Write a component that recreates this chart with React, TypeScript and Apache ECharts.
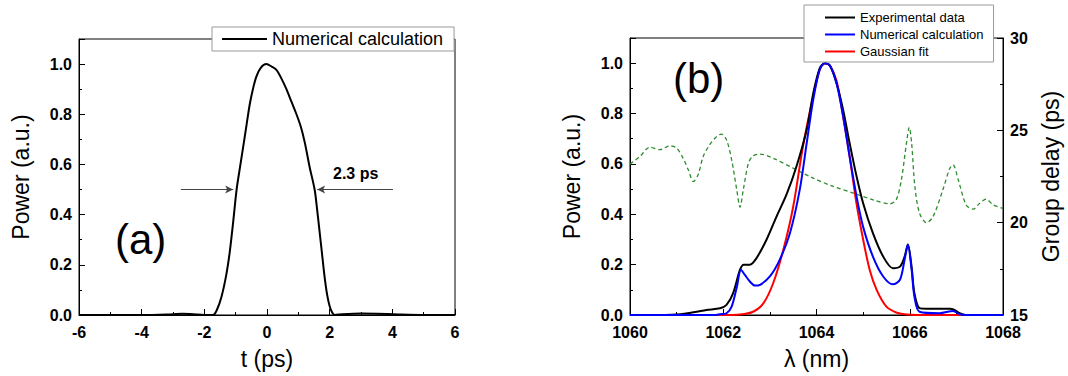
import React, { useEffect, useRef } from "react";
import * as echarts from "echarts";

// ---- Panel (a): pulse in time domain ----
const pulseT = [-6, -5, -4, -3.2, -2.7, -2.2, -1.9, -1.72, -1.6, -1.45, -1.3, -1.19, -1.08, -0.97, -0.86, -0.76, -0.65, -0.55, -0.45, -0.34, -0.2, -0.02, 0.15, 0.3, 0.45, 0.62, 0.78, 0.94, 1.08, 1.21, 1.36, 1.52, 1.6, 1.68, 1.76, 1.84, 1.92, 2.0, 2.08, 2.16, 2.4, 3.0, 3.5, 4.2, 5, 6];
const pulsePower = [0, 0, 0, 0.002, 0.005, 0.002, 0, 0, 0.02, 0.074, 0.16, 0.25, 0.37, 0.5, 0.59, 0.67, 0.76, 0.84, 0.9, 0.95, 0.985, 1.0, 0.99, 0.977, 0.945, 0.9, 0.85, 0.8, 0.75, 0.685, 0.59, 0.5, 0.42, 0.33, 0.24, 0.15, 0.08, 0.035, 0.01, 0, 0.003, 0.006, 0.005, 0.002, 0, 0];
const fwhmLeftArrow = [[-2.75, 0.5], [-1.08, 0.5]];
const fwhmRightArrow = [[4.02, 0.5], [1.6, 0.5]];

// ---- Panel (b): spectrum ----
const expLambda = [1060, 1060.5, 1061, 1061.2, 1061.43, 1061.64, 1061.93, 1062.07, 1062.21, 1062.36, 1062.44, 1062.57, 1062.71, 1062.93, 1063.14, 1063.36, 1063.57, 1063.79, 1063.93, 1064.07, 1064.18, 1064.29, 1064.43, 1064.57, 1064.71, 1064.86, 1065, 1065.21, 1065.43, 1065.64, 1065.79, 1065.89, 1065.96, 1066.04, 1066.1, 1066.21, 1066.36, 1066.86, 1066.96, 1067.07, 1067.2, 1068];
const expPower = [0, 0, 0.002, 0.006, 0.013, 0.02, 0.027, 0.04, 0.086, 0.18, 0.2, 0.2, 0.225, 0.3, 0.39, 0.48, 0.59, 0.736, 0.88, 0.98, 1.0, 0.99, 0.92, 0.815, 0.683, 0.55, 0.444, 0.325, 0.232, 0.186, 0.192, 0.232, 0.28, 0.19, 0.086, 0.027, 0.025, 0.025, 0.02, 0.007, 0, 0];

const numLambda = [1060, 1061, 1061.8, 1061.93, 1062.07, 1062.18, 1062.29, 1062.38, 1062.46, 1062.57, 1062.68, 1062.79, 1063, 1063.21, 1063.43, 1063.64, 1063.79, 1063.93, 1064.07, 1064.18, 1064.29, 1064.43, 1064.57, 1064.71, 1064.86, 1065, 1065.21, 1065.43, 1065.64, 1065.79, 1065.89, 1065.96, 1066.04, 1066.1, 1066.21, 1066.64, 1066.93, 1067.07, 1067.2, 1068];
const numPower = [0, 0, 0, 0.003, 0.007, 0.033, 0.11, 0.18, 0.16, 0.133, 0.117, 0.12, 0.153, 0.219, 0.325, 0.497, 0.683, 0.855, 0.975, 1.0, 0.99, 0.92, 0.79, 0.63, 0.47, 0.35, 0.232, 0.153, 0.122, 0.14, 0.22, 0.28, 0.18, 0.073, 0.013, 0.007, 0.016, 0.003, 0, 0];

const gaussLambda = [1060, 1062, 1062.36, 1062.64, 1062.86, 1063.07, 1063.29, 1063.5, 1063.71, 1063.93, 1064.07, 1064.18, 1064.29, 1064.43, 1064.57, 1064.71, 1064.86, 1065, 1065.14, 1065.29, 1065.5, 1065.71, 1065.93, 1066.5, 1068];
const gaussPower = [0, 0, 0.002, 0.013, 0.046, 0.126, 0.26, 0.43, 0.67, 0.87, 0.975, 1.0, 0.99, 0.93, 0.79, 0.63, 0.44, 0.3, 0.18, 0.1, 0.033, 0.01, 0.002, 0, 0];

const gdLambda = [1060, 1060.21, 1060.43, 1060.64, 1060.86, 1061, 1061.14, 1061.25, 1061.36, 1061.46, 1061.57, 1061.71, 1061.86, 1061.96, 1062.07, 1062.18, 1062.29, 1062.36, 1062.43, 1062.54, 1062.64, 1062.79, 1063.07, 1063.5, 1063.93, 1064.36, 1064.79, 1065.21, 1065.57, 1065.71, 1065.82, 1065.93, 1065.99, 1066.04, 1066.11, 1066.21, 1066.36, 1066.5, 1066.71, 1066.86, 1066.93, 1067.04, 1067.21, 1067.36, 1067.5, 1067.64, 1067.79, 1068];
const groupDelay = [23.17, 23.58, 24.09, 23.95, 24.16, 24.04, 23.49, 22.86, 22.23, 22.59, 23.58, 24.22, 24.67, 24.8, 24.49, 23.4, 21.78, 20.84, 21.78, 23.22, 23.62, 23.71, 23.49, 22.95, 22.41, 21.96, 21.6, 21.24, 21.02, 21.24, 22.32, 24.31, 25.16, 24.31, 21.96, 20.51, 20.0, 20.33, 21.78, 22.95, 23.13, 22.32, 20.96, 20.73, 21.05, 21.27, 20.96, 20.78];

const FONT = "'Liberation Sans', Arial, sans-serif";

const pairs = (xs: number[], ys: number[]) => xs.map((x, i) => [x, ys[i]]);

const tickLabel = (fmt?: (v: number) => string) => ({
  color: "#000",
  fontWeight: "bold" as const,
  fontSize: 16,
  fontFamily: FONT,
  margin: 7,
  formatter: fmt || ((v: number) => String(v)),
});

const axisCommon = {
  axisLine: { show: true, onZero: false, lineStyle: { color: "#000", width: 1 } },
  axisTick: { show: true, inside: true, length: 6, lineStyle: { color: "#000" } },
  minorTick: { show: true, inside: true, splitNumber: 2, length: 3, lineStyle: { color: "#000" } },
  splitLine: { show: false },
  nameTextStyle: { fontSize: 23, color: "#000", fontFamily: FONT },
  nameLocation: "middle" as const,
};

const LINE_ICON = "rect";

export default function App() {
  const ref = useRef<HTMLDivElement>(null);
  useEffect(() => {
    if (!ref.current) return;
    const chart = echarts.init(ref.current, undefined, { renderer: "svg" });
    const option: any = {
      animation: false,
      textStyle: { fontFamily: FONT },
      grid: [
        { left: 79, right: 613, top: 39, bottom: 61, show: true, borderColor: "#000", borderWidth: 1 },
        { left: 630, right: 65, top: 38, bottom: 61, show: true, borderColor: "#000", borderWidth: 1 },
      ],
      xAxis: [
        {
          ...axisCommon,
          gridIndex: 0, type: "value", min: -6, max: 6, interval: 2,
          name: "t (ps)", nameGap: 32,
          axisLabel: { ...tickLabel(), margin: 9 },
        },
        {
          ...axisCommon,
          gridIndex: 1, type: "value", min: 1060, max: 1068, interval: 2,
          name: "λ (nm)", nameGap: 32,
          axisLabel: { ...tickLabel(), margin: 9 },
        },
      ],
      yAxis: [
        {
          ...axisCommon,
          gridIndex: 0, type: "value", min: 0, max: 1.1, interval: 0.2,
          name: "Power (a.u.)", nameGap: 47, nameRotate: 90,
          axisLabel: { ...tickLabel((v: number) => (v > 1.05 ? "" : v.toFixed(1))), showMaxLabel: false },
        },
        {
          ...axisCommon,
          gridIndex: 1, type: "value", min: 0, max: 1.1, interval: 0.2,
          name: "Power (a.u.)", nameGap: 47, nameRotate: 90,
          axisLabel: { ...tickLabel((v: number) => (v > 1.05 ? "" : v.toFixed(1))), showMaxLabel: false },
        },
        {
          ...axisCommon,
          gridIndex: 1, type: "value", position: "right", min: 15, max: 30, interval: 5,
          name: "Group delay (ps)", nameGap: 36, nameRotate: 90,
          axisLabel: { ...tickLabel() },
        },
      ],
      legend: [
        {
          data: ["calcA"],
          left: 212, top: 27,
          orient: "horizontal",
          icon: LINE_ICON,
          formatter: () => "Numerical calculation",
          backgroundColor: "#fff", borderColor: "#999", borderWidth: 1,
          padding: [3, 11, 3, 10],
          itemWidth: 45, itemHeight: 2,
          textStyle: { fontSize: 18, color: "#000", fontFamily: FONT },
        },
        {
          data: ["Experimental data", "calcB", "Gaussian fit"],
          left: 804, top: 5,
          orient: "vertical",
          icon: LINE_ICON,
          formatter: (n: string) => (n === "calcB" ? "Numerical calculation" : n),
          backgroundColor: "#fff", borderColor: "#999", borderWidth: 1,
          padding: [5, 10, 3, 21],
          itemGap: 2, itemWidth: 30, itemHeight: 2,
          textStyle: { fontSize: 13, color: "#000", fontFamily: FONT, lineHeight: 15 },
        },
      ],
      graphic: [
        { type: "text", left: 115, top: 218, style: { text: "(a)", fontSize: 42, fill: "#000", fontFamily: FONT } },
        { type: "text", left: 673, top: 57, style: { text: "(b)", fontSize: 42, fill: "#000", fontFamily: FONT } },
        { type: "text", left: 333, top: 165, style: { text: "2.3 ps", fontSize: 16, fontWeight: "bold", fill: "#000", fontFamily: FONT } },
      ],
      series: [
        {
          name: "calcA", type: "line", xAxisIndex: 0, yAxisIndex: 0,
          data: pairs(pulseT, pulsePower),
          symbol: "none", showSymbol: false, smooth: 0.3,
          lineStyle: { color: "#000", width: 2 }, itemStyle: { color: "#000" },
          markLine: {
            silent: true,
            symbol: ["none", "arrow"],
            symbolSize: [6, 8],
            label: { show: false },
            lineStyle: { color: "#444", width: 1, type: "solid" },
            data: [
              [{ coord: fwhmLeftArrow[0] }, { coord: fwhmLeftArrow[1] }],
              [{ coord: fwhmRightArrow[0] }, { coord: fwhmRightArrow[1] }],
            ],
          },
        },
        {
          name: "Group delay", type: "line", xAxisIndex: 1, yAxisIndex: 2,
          data: pairs(gdLambda, groupDelay),
          symbol: "none", showSymbol: false, smooth: 0.3,
          lineStyle: { color: "#2e8b2e", width: 1.3, type: [4, 3] }, itemStyle: { color: "#2e8b2e" },
        },
        {
          name: "Gaussian fit", type: "line", xAxisIndex: 1, yAxisIndex: 1,
          data: pairs(gaussLambda, gaussPower),
          symbol: "none", showSymbol: false, smooth: 0.3,
          lineStyle: { color: "#ff0000", width: 2 }, itemStyle: { color: "#ff0000" },
        },
        {
          name: "Experimental data", type: "line", xAxisIndex: 1, yAxisIndex: 1,
          data: pairs(expLambda, expPower),
          symbol: "none", showSymbol: false, smooth: 0.3,
          lineStyle: { color: "#000", width: 2 }, itemStyle: { color: "#000" },
        },
        {
          name: "calcB", type: "line", xAxisIndex: 1, yAxisIndex: 1,
          data: pairs(numLambda, numPower),
          symbol: "none", showSymbol: false, smooth: 0.3,
          lineStyle: { color: "#0000ff", width: 2 }, itemStyle: { color: "#0000ff" },
        },
      ],
    };
    chart.setOption(option);
    return () => chart.dispose();
  }, []);
  return (
    <div
      ref={ref}
      style={{ position: "absolute", left: 0, top: 0, width: 1068, height: 376, background: "#fff" }}
    />
  );
}
